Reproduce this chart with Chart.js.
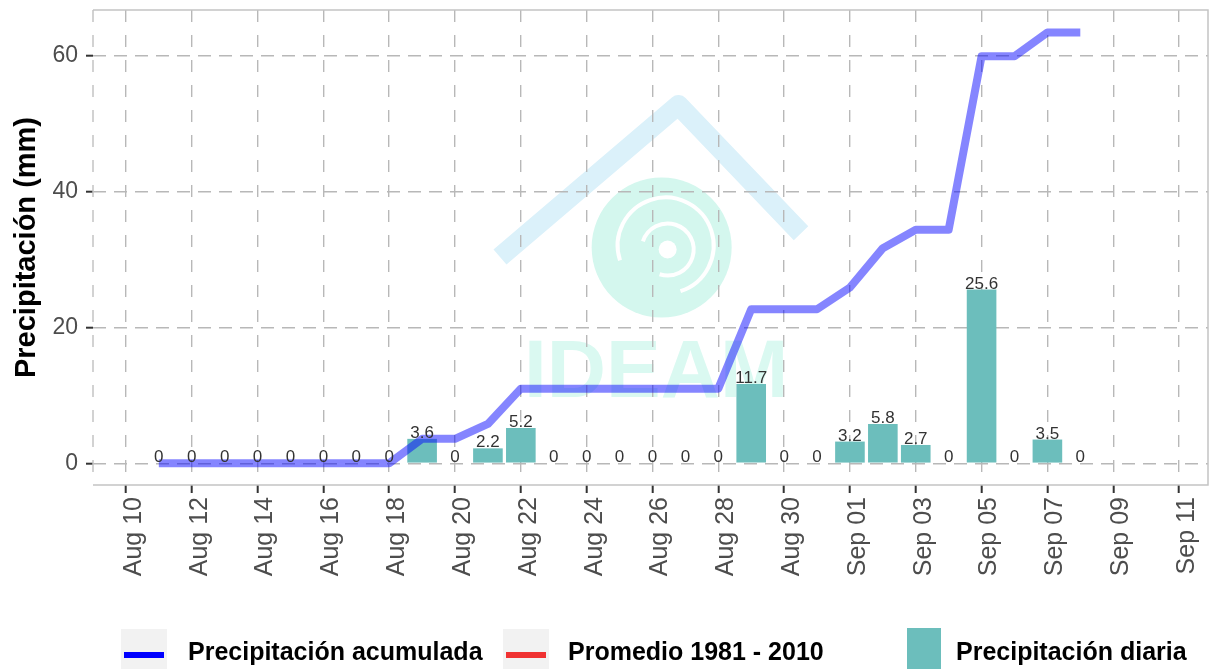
<!DOCTYPE html>
<html lang="es">
<head>
    <meta charset="UTF-8">
    <title>Precipitación diaria y acumulada</title>
    <style>
        html, body { margin: 0; padding: 0; background: #ffffff; }
        #wrap { position: relative; width: 1211px; height: 669px; }
    </style>
</head>
<body>
    <div id="wrap"><canvas id="precipChart" width="1211" height="669"></canvas></div>

    <script src="https://cdn.jsdelivr.net/npm/chart.js"></script>
    <script>
        // Datos
        const fechas = ['Aug 11', 'Aug 12', 'Aug 13', 'Aug 14', 'Aug 15', 'Aug 16', 'Aug 17', 'Aug 18',
            'Aug 19', 'Aug 20', 'Aug 21', 'Aug 22', 'Aug 23', 'Aug 24', 'Aug 25', 'Aug 26', 'Aug 27',
            'Aug 28', 'Aug 29', 'Aug 30', 'Aug 31', 'Sep 01', 'Sep 02', 'Sep 03', 'Sep 04', 'Sep 05',
            'Sep 06', 'Sep 07', 'Sep 08'];
        const diaria = [0, 0, 0, 0, 0, 0, 0, 0, 3.6, 0, 2.2, 5.2, 0, 0, 0, 0, 0, 0, 11.7, 0, 0,
            3.2, 5.8, 2.7, 0, 25.6, 0, 3.5, 0];
        const acumulada = [0, 0, 0, 0, 0, 0, 0, 0, 3.6, 3.6, 5.8, 11, 11, 11, 11, 11, 11, 11,
            22.7, 22.7, 22.7, 25.9, 31.7, 34.4, 34.4, 60, 60, 63.5, 63.5];
        const xTickLabels = ['Aug 10', 'Aug 12', 'Aug 14', 'Aug 16', 'Aug 18', 'Aug 20', 'Aug 22',
            'Aug 24', 'Aug 26', 'Aug 28', 'Aug 30', 'Sep 01', 'Sep 03', 'Sep 05', 'Sep 07', 'Sep 09', 'Sep 11'];
        const yTicks = [0, 20, 40, 60];

        // dias contados desde Aug 10
        function dayOf(label) {
            const [mon, d] = label.split(' ');
            return mon === 'Aug' ? Number(d) - 10 : Number(d) + 21;
        }
        const tickDays = xTickLabels.map(dayOf);

        const legendItems = [
            { text: 'Precipitación acumulada', color: '#0000ff', type: 'line', box: 121, textX: 188 },
            { text: 'Promedio 1981 - 2010', color: '#f03232', type: 'line', box: 503, textX: 568 },
            { text: 'Precipitación diaria', color: '#6cbebc', type: 'box', box: 907, textX: 956 }
        ];

        const watermark = {
            id: 'watermark',
            beforeDraw(chart) {
                const { ctx, chartArea: a } = chart;
                const W = a.right - a.left, H = a.bottom - a.top;
                const px = f => a.left + f * W, py = f => a.top + f * H;
                ctx.save();
                // techo
                ctx.strokeStyle = '#dbf1fa';
                ctx.lineWidth = 20;
                ctx.lineJoin = 'round';
                ctx.beginPath();
                ctx.moveTo(px(0.365), py(0.52));
                ctx.lineTo(px(0.525), py(0.2));
                ctx.lineTo(px(0.635), py(0.47));
                ctx.stroke();
                // espiral
                const cx = px(0.51), cy = py(0.5);
                ctx.fillStyle = '#d4f7ee';
                ctx.beginPath();
                ctx.arc(cx, cy, 70, 0, Math.PI * 2);
                ctx.fill();
                ctx.strokeStyle = '#ffffff';
                ctx.lineWidth = 4;
                ctx.beginPath();
                ctx.arc(cx + 4, cy - 2, 48, Math.PI * 0.9, Math.PI * 2.4);
                ctx.stroke();
                ctx.beginPath();
                ctx.arc(cx + 6, cy + 2, 26, Math.PI * 1.1, Math.PI * 2.6);
                ctx.stroke();
                ctx.fillStyle = '#ffffff';
                ctx.beginPath();
                ctx.arc(cx + 6, cy + 2, 9, 0, Math.PI * 2);
                ctx.fill();
                // texto
                ctx.fillStyle = '#daf9f1';
                ctx.font = 'bold 82px "Liberation Sans", Arial, sans-serif';
                ctx.textAlign = 'center';
                ctx.textBaseline = 'alphabetic';
                ctx.fillText('IDEAM', px(0.505), py(0.815));
                ctx.restore();
            }
        };

        const panelAndLabels = {
            id: 'panelAndLabels',
            afterDatasetsDraw(chart) {
                const { ctx } = chart;
                const meta = chart.getDatasetMeta(1);
                ctx.save();
                ctx.font = '17px "Liberation Sans", Arial, sans-serif';
                ctx.fillStyle = '#333333';
                ctx.textAlign = 'center';
                ctx.textBaseline = 'alphabetic';
                meta.data.forEach((bar, i) => {
                    ctx.fillText(String(diaria[i]), bar.x, bar.y - 1);
                });
                ctx.restore();
            },
            afterDraw(chart) {
                const { ctx, chartArea: a } = chart;
                ctx.save();
                ctx.strokeStyle = '#c4c4c4';
                ctx.lineWidth = 1.5;
                ctx.beginPath();
                ctx.moveTo(a.left, a.top); ctx.lineTo(a.right, a.top);
                ctx.lineTo(a.right, a.bottom); ctx.lineTo(a.left, a.bottom);
                ctx.stroke();
                ctx.setLineDash([12, 13]);
                ctx.beginPath();
                ctx.moveTo(a.left, a.top); ctx.lineTo(a.left, a.bottom);
                ctx.stroke();
                ctx.setLineDash([]);

                // leyenda
                ctx.font = 'bold 25px "Liberation Sans", Arial, sans-serif';
                ctx.textBaseline = 'alphabetic';
                ctx.textAlign = 'left';
                legendItems.forEach(it => {
                    if (it.type === 'line') {
                        ctx.fillStyle = '#f2f2f2';
                        ctx.fillRect(it.box, 629, 46, 40);
                        ctx.fillStyle = it.color;
                        ctx.fillRect(it.box + 3, 652, 40, 6);
                    } else {
                        ctx.fillStyle = it.color;
                        ctx.fillRect(it.box, 628, 34, 41);
                    }
                    ctx.fillStyle = '#000000';
                    ctx.fillText(it.text, it.textX, 660);
                });
                ctx.restore();
            }
        };

        const ctx = document.getElementById('precipChart').getContext('2d');
        new Chart(ctx, {
            data: {
                datasets: [
                    {
                        type: 'line',
                        label: 'Precipitación acumulada',
                        data: fechas.map((f, i) => ({ x: dayOf(f), y: acumulada[i] })),
                        borderColor: 'rgba(0, 0, 255, 0.48)',
                        borderWidth: 8,
                        borderJoinStyle: 'round',
                        tension: 0,
                        pointRadius: 0,
                        order: 0
                    },
                    {
                        type: 'bar',
                        label: 'Precipitación diaria',
                        data: fechas.map((f, i) => ({ x: dayOf(f), y: diaria[i] })),
                        backgroundColor: '#6cbebc',
                        borderWidth: 0,
                        barPercentage: 0.9,
                        categoryPercentage: 1.0,
                        order: 1
                    }
                ]
            },
            options: {
                responsive: false,
                animation: false,
                layout: { padding: { top: 10, right: 3, left: 0, bottom: 0 } },
                plugins: {
                    legend: { display: false },
                    tooltip: { enabled: false }
                },
                scales: {
                    x: {
                        type: 'linear',
                        min: -1,
                        max: 32.88,
                        offset: false,
                        afterBuildTicks: axis => { axis.ticks = tickDays.map(v => ({ value: v })); },
                        afterFit: axis => {
                            axis.height = 184;
                            axis.paddingLeft = 0;
                            axis.paddingRight = 0;
                        },
                        grid: {
                            offset: false,
                            color: '#b8b8b8',
                            lineWidth: 1.4,
                            tickColor: '#333333',
                            tickWidth: 2,
                            tickLength: 8,
                            tickBorderDash: []
                        },
                        border: { display: false, dash: [12, 13] },
                        ticks: {
                            autoSkip: false,
                            minRotation: 90,
                            maxRotation: 90,
                            padding: 4,
                            labelOffset: 8,
                            color: '#4d4d4d',
                            font: { family: '"Liberation Sans", Arial, sans-serif', size: 25 },
                            callback: v => xTickLabels[tickDays.indexOf(v)]
                        }
                    },
                    y: {
                        type: 'linear',
                        min: -3.2,
                        max: 66.8,
                        afterBuildTicks: axis => { axis.ticks = yTicks.map(v => ({ value: v })); },
                        afterFit: axis => {
                            axis.width = 93;
                            axis.paddingTop = 0;
                            axis.paddingBottom = 0;
                        },
                        grid: {
                            color: '#b8b8b8',
                            lineWidth: 1.4,
                            tickColor: '#333333',
                            tickWidth: 2,
                            tickLength: 7,
                            tickBorderDash: []
                        },
                        border: { display: false, dash: [13, 8] },
                        ticks: {
                            padding: 8,
                            color: '#4d4d4d',
                            font: { family: '"Liberation Sans", Arial, sans-serif', size: 23 }
                        },
                        title: {
                            display: true,
                            text: 'Precipitación (mm)',
                            color: '#000000',
                            padding: { top: 10, bottom: 0 },
                            font: { family: '"Liberation Sans", Arial, sans-serif', size: 29, weight: 'bold' }
                        }
                    }
                }
            },
            plugins: [watermark, panelAndLabels]
        });
    </script>
</body>
</html>
